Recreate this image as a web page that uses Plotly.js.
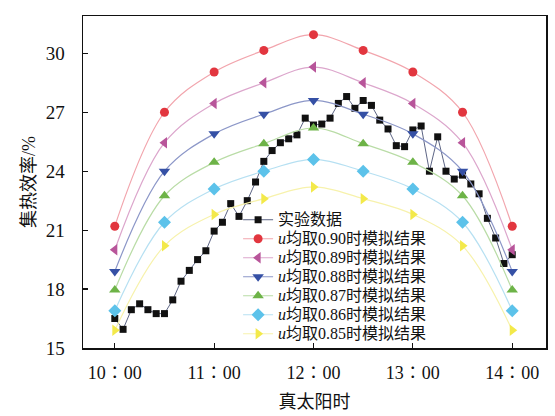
<!DOCTYPE html>
<html>
<head>
<meta charset="utf-8">
<script src="https://cdn.plot.ly/plotly-3.0.1.min.js"></script>
<style>html,body{margin:0;padding:0;background:#fff}#chart{width:555px;height:416px}</style>
</head>
<body>
<div id="chart"></div>
<script>
// Simulation times (half-hourly) and experiment times (5-minute)
const simTimes = ['10:00','10:30','11:00','11:30','12:00','12:30','13:00','13:30','14:00'];
const expTimes = ['10:00','10:05','10:10','10:15','10:20','10:25','10:30','10:35','10:40','10:45','10:50','10:55',
  '11:00','11:05','11:10','11:15','11:20','11:25','11:30','11:35','11:40','11:45','11:50','11:55',
  '12:00','12:05','12:10','12:15','12:20','12:25','12:30','12:35','12:40','12:45','12:50','12:55',
  '13:00','13:05','13:10','13:15','13:20','13:25','13:30','13:35','13:40','13:45','13:50','13:55','14:00'];
const expValues = [16.5,15.95,16.95,17.25,16.95,16.75,16.75,17.45,18.4,18.95,19.5,19.95,
  20.95,21.4,22.35,21.7,22.5,23.45,24.5,25.05,25.45,25.65,25.85,26.7,
  26.35,26.4,26.7,27.45,27.8,27.2,27.6,27.35,26.6,26.15,25.3,25.25,
  26.1,26.3,24.0,25.75,24.0,23.6,23.8,23.35,22.85,21.6,20.6,19.3,19.75];
const sim090 = [21.2,27.0,29.05,30.15,30.95,30.15,29.05,27.0,21.2];
const sim089 = [20.0,25.45,27.45,28.5,29.3,28.5,27.45,25.45,20.0];
const sim088 = [18.9,24.0,25.9,26.9,27.6,26.9,25.9,24.0,18.9];
const sim087 = [17.95,22.75,24.45,25.4,26.2,25.4,24.45,22.75,17.95];
const sim086 = [16.9,21.4,23.1,24.0,24.6,24.0,23.1,21.4,16.9];
const sim085 = [15.9,20.2,21.8,22.6,23.2,22.6,21.8,20.2,15.9];
const seriesNames = ['实验数据','<i>u</i>均取0.90时模拟结果','<i>u</i>均取0.89时模拟结果','<i>u</i>均取0.88时模拟结果',
  '<i>u</i>均取0.87时模拟结果','<i>u</i>均取0.86时模拟结果','<i>u</i>均取0.85时模拟结果'];
const tickVals = [10,11,12,13,14];
const tickText = ['10∶00','11∶00','12∶00','13∶00','14∶00'];
const yTickVals = [15,18,21,24,27,30];

function toHours(t){const p=t.split(':');return +p[0]+(+p[1])/60;}
const xs = simTimes.map(toHours);
const xe = expTimes.map(toHours);
const legendLabel = s => '<span style="font-size:16px">' + s + '</span>';

const simStyles = [
  {data:sim090, mc:'#e2363f', lc:'#f2a5ad', sym:'circle', size:9},
  {data:sim089, mc:'#b8559a', lc:'#dca6cc', sym:'triangle-left', size:10},
  {data:sim088, mc:'#3550a5', lc:'#8c97c8', sym:'triangle-down', size:10},
  {data:sim087, mc:'#6db347', lc:'#b9dca6', sym:'triangle-up', size:10},
  {data:sim086, mc:'#5cc2ea', lc:'#b6e0f2', sym:'diamond', size:10},
  {data:sim085, mc:'#f3e94a', lc:'#f7f2ac', sym:'triangle-right', size:10}
];

const traces = [{
  x: xe, y: expValues, name: legendLabel(seriesNames[0]), type:'scatter', mode:'lines+markers',
  line:{color:'#5d6585', width:1},
  marker:{symbol:'square', color:'#111', size:7}
}];
simStyles.forEach((s,i)=>{
  traces.push({
    x: xs, y: s.data, name: legendLabel(seriesNames[i+1]), type:'scatter', mode:'lines+markers',
    line:{color:s.lc, width:1.2, shape:'spline', smoothing:1},
    marker:{symbol:s.sym, color:s.mc, size:s.size}
  });
});

const font = 'Liberation Serif, "Noto Sans CJK SC", serif';
const layout = {
  width:555, height:416,
  margin:{l:83, r:9, t:16, b:68},
  paper_bgcolor:'#fff', plot_bgcolor:'#fff',
  font:{family:font, size:16, color:'#111'},
  showlegend:true,
  legend:{x:0.335, y:0.43, xanchor:'left', yanchor:'top', bgcolor:'rgba(255,255,255,0)',
    font:{family:font, size:12.2, color:'#111'}, tracegroupgap:0, itemwidth:30},
  xaxis:{range:[9.68,14.34], tickvals:tickVals, ticktext:tickText, ticks:'inside', ticklen:5,
    tickwidth:1.2, tickcolor:'#111', showline:true, linecolor:'#111', linewidth:1.5, mirror:true,
    showgrid:false, zeroline:false, tickfont:{size:18}, ticklabelstandoff:8,
    title:{text:'真太阳时', font:{size:18}, standoff:13}},
  yaxis:{range:[15,31.9], tickvals:yTickVals, ticks:'inside', ticklen:5, tickwidth:1.2,
    tickcolor:'#111', showline:true, linecolor:'#111', linewidth:1.5, mirror:true,
    showgrid:false, zeroline:false, tickfont:{size:19}, ticklabelstandoff:13,
    title:{text:'集热效率/%', font:{size:18}, standoff:5}}
};
Plotly.newPlot('chart', traces, layout, {displayModeBar:false, staticPlot:true});
</script>
</body>
</html>
